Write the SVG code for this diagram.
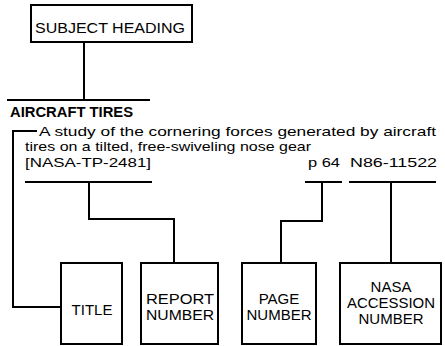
<svg xmlns="http://www.w3.org/2000/svg" width="445" height="346" viewBox="0 0 445 346">
<style>
.box{fill:#fff;stroke:#000;stroke-width:2}
.ln{fill:none;stroke:#000;stroke-width:2}
text{font-family:"Liberation Sans",Arial,sans-serif;fill:#000}
.lbl{font-size:15px;text-anchor:middle}
.body{font-size:13.5px}
.head{font-size:14px;font-weight:bold}
</style>
<rect width="445" height="346" fill="#fff"/>
<g id="subject-heading">
<rect class="box" x="31" y="5" width="161" height="37"/>
<text class="lbl" x="110" y="33" textLength="150" lengthAdjust="spacingAndGlyphs">SUBJECT HEADING</text>
</g>
<g id="citation">
<text class="head" x="10" y="117" textLength="123" lengthAdjust="spacingAndGlyphs">AIRCRAFT TIRES</text>
<text class="body" x="39" y="136" textLength="397" lengthAdjust="spacingAndGlyphs">A study of the cornering forces generated by aircraft</text>
<text class="body" x="25" y="151" textLength="286" lengthAdjust="spacingAndGlyphs">tires on a tilted, free-swiveling nose gear</text>
<text class="body" x="25" y="167" textLength="126" lengthAdjust="spacingAndGlyphs">[NASA-TP-2481]</text>
<text class="body" x="308" y="167" textLength="32" lengthAdjust="spacingAndGlyphs">p 64</text>
<text class="body" x="350" y="167" textLength="87" lengthAdjust="spacingAndGlyphs">N86-11522</text>
</g>
<g id="title">
<rect class="box" x="61" y="263" width="61" height="81"/>
<text class="lbl" x="92" y="315">TITLE</text>
</g>
<g id="report-number">
<rect class="box" x="141" y="263" width="77" height="81"/>
<text class="lbl" x="180" y="304" textLength="68" lengthAdjust="spacingAndGlyphs">REPORT</text>
<text class="lbl" x="180" y="320" textLength="68" lengthAdjust="spacingAndGlyphs">NUMBER</text>
</g>
<g id="page-number">
<rect class="box" x="242" y="263" width="74" height="81"/>
<text class="lbl" x="279" y="304">PAGE</text>
<text class="lbl" x="279" y="320" textLength="65" lengthAdjust="spacingAndGlyphs">NUMBER</text>
</g>
<g id="nasa-accession-number">
<rect class="box" x="340" y="263" width="101" height="81"/>
<text class="lbl" x="391" y="292">NASA</text>
<text class="lbl" x="391" y="308" textLength="88" lengthAdjust="spacingAndGlyphs">ACCESSION</text>
<text class="lbl" x="391" y="324">NUMBER</text>
</g>
<g id="connectors">
<path class="ln" d="M84 42V100"/>
<path class="ln" d="M7 100H150"/>
<path class="ln" d="M37 131H13V307H61"/>
<path class="ln" d="M25 182H152"/>
<path class="ln" d="M89 182V219H174V263"/>
<path class="ln" d="M305 182H342"/>
<path class="ln" d="M322 182V221H281V263"/>
<path class="ln" d="M349 182H436"/>
<path class="ln" d="M391 182V263"/>
</g>
</svg>
